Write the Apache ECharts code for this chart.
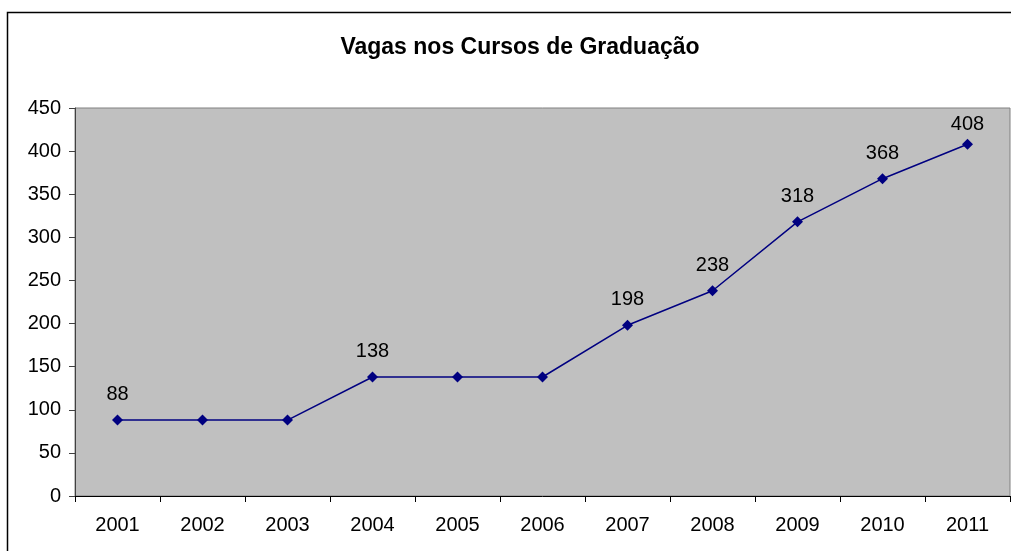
<!DOCTYPE html>
<html>
<head>
<meta charset="utf-8">
<script src="https://cdn.jsdelivr.net/npm/echarts@6/dist/echarts.min.js"></script>
<style>
html,body{margin:0;padding:0;background:#fff;}
#main{width:1011px;height:551px;}
</style>
</head>
<body>
<div id="main"></div>
<script type="text/javascript">
	// dados do gráfico
	var anos = ["2001","2002","2003","2004","2005","2006","2007","2008","2009","2010","2011"];
	var vagas = [88, 88, 88, 138, 138, 138, 198, 238, 318, 368, 408];
	// anos que mostram o valor no gráfico
	var anosComRotulo = ["2001","2004","2007","2008","2009","2010","2011"];

	var myChart = echarts.init(document.getElementById("main"));

	var dados = vagas.map(function(v, i){
		var d = {
			value: v,
			label: {show: anosComRotulo.indexOf(anos[i]) >= 0}
		};
		// o último rótulo fica mais perto do ponto (topo da área)
		if(i === vagas.length - 1){
			d.label.distance = 4;
		}
		return d;
	});

	var option = {
		backgroundColor: '#fff',
		animation: false,
		title: {
			text: 'Vagas nos Cursos de Graduação',
			left: 515,
			textAlign: 'center',
			top: 31,
			textStyle: {fontFamily: 'Liberation Sans, Arial', fontSize: 23, fontWeight: 'bold', color: '#000'}
		},
		graphic: [{
			type: 'rect',
			shape: {x: 7.5, y: 12.5, width: 1100, height: 600},
			style: {fill: 'none', stroke: '#000', lineWidth: 1.5},
			silent: true,
			z: 100
		}],
		grid: {
			left: 75, top: 108, right: 1, bottom: 55,
			show: true,
			backgroundColor: '#C0C0C0',
			borderColor: '#808080',
			borderWidth: 1,
			outerBoundsMode: 'none'
		},
		xAxis: {
			type: 'category',
			data: anos,
			boundaryGap: true,
			axisLine: {lineStyle: {color: '#000', width: 1}},
			axisTick: {show: true, length: 6, lineStyle: {color: '#000'}},
			axisLabel: {fontFamily: 'Liberation Sans, Arial', fontSize: 20, color: '#000', margin: 19}
		},
		yAxis: {
			type: 'value',
			min: 0, max: 450, interval: 50,
			axisLine: {show: true, lineStyle: {color: '#404040', width: 1}},
			axisTick: {show: true, length: 6, lineStyle: {color: '#404040'}},
			splitLine: {show: false},
			axisLabel: {fontFamily: 'Liberation Sans, Arial', fontSize: 20, color: '#000', margin: 14}
		},
		series: [{
			type: 'line',
			data: dados,
			symbol: 'diamond',
			symbolSize: 11,
			lineStyle: {color: '#000080', width: 1.5},
			itemStyle: {color: '#000080'},
			label: {
				position: 'top',
				distance: 10,
				fontFamily: 'Liberation Sans, Arial',
				fontSize: 20,
				color: '#000'
			}
		}]
	};

	myChart.setOption(option);
</script>
</body>
</html>
